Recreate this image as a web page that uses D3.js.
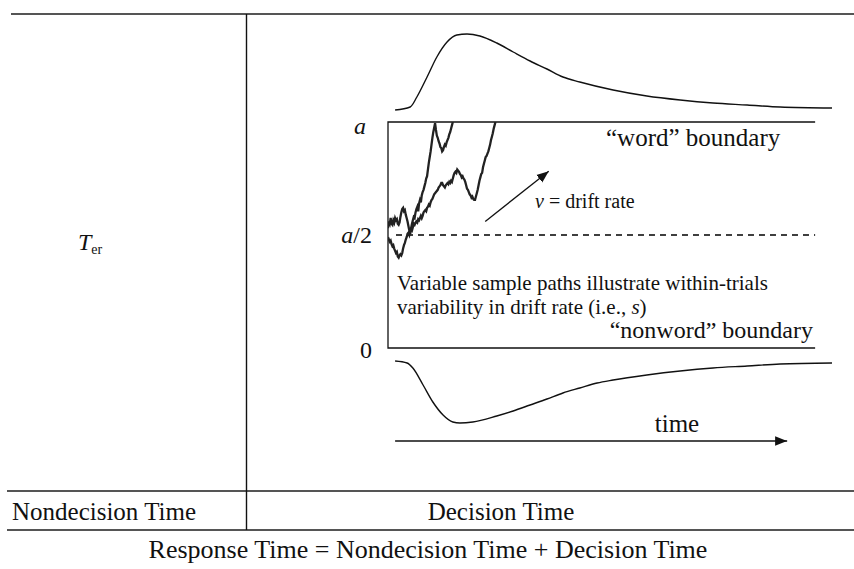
<!DOCTYPE html>
<html><head><meta charset="utf-8">
<script src="https://cdn.jsdelivr.net/npm/d3@7"></script>
<style>html,body{margin:0;padding:0;background:#fff;} svg{display:block;} text{font-family:"Liberation Serif","Times New Roman",serif;fill:#111;}</style>
</head><body>
<svg id="c" width="854" height="569"></svg>
<script>
// ---- data ----
const boundaryLabels = ["a", "a/2", "0"];
const boundaryValues = [1, 0.5, 0];
// "word" (upper) RT density: time, density
const upperTime = [16, 50, 65, 88, 110, 133, 155, 178, 207, 245, 282, 320, 358, 394, 432, 507, 583, 658, 732, 809, 883, 1000];
const upperDensity = [0, 3, 13, 33, 53, 68, 75, 76, 74, 67, 58, 49, 41, 33, 28, 20, 14, 10, 7, 5, 3, 2];
// "nonword" (lower) RT density
const lowerTime = [16, 43, 56, 79, 101, 124, 146, 162, 191, 245, 282, 320, 358, 394, 432, 471, 507, 583, 658, 732, 809, 883, 1000];
const lowerDensity = [0, 2, 7, 24, 41, 54, 61, 62, 61, 55, 50, 44, 38, 32, 27, 22, 19, 14, 10, 7, 5, 3, 2];
// sample paths: [time, evidence (0..a)]
const path1 = [[0,0.53],[2,0.56],[4,0.55],[6,0.575],[8,0.55],[10,0.545],[12,0.565],[14,0.555],[16,0.575],[18,0.565],[20,0.57],[22,0.55],[24,0.545],[26,0.555],[28,0.58],[30,0.6],[32,0.615],[34,0.62],[36,0.605],[38,0.61],[40,0.59],[42,0.575],[44,0.56],[46,0.54],[48,0.52],[50,0.505],[52,0.53],[54,0.55],[56,0.565],[58,0.58],[60,0.575],[62,0.6],[64,0.615],[66,0.625],[68,0.605],[70,0.64],[72,0.655],[74,0.645],[76,0.675],[78,0.69],[80,0.7],[82,0.715],[84,0.73],[86,0.75],[88,0.76],[90,0.79],[92,0.82],[94,0.845],[96,0.87],[98,0.9],[100,0.93],[102,0.955],[104,0.975],[106,0.995],[108,0.965],[110,0.94],[112,0.93],[114,0.915],[116,0.905],[118,0.89],[120,0.885],[122,0.87],[124,0.875],[126,0.89],[128,0.9],[130,0.895],[132,0.91],[134,0.92],[136,0.93],[138,0.945],[140,0.955],[142,0.97],[144,0.985],[146,1.0]];
const path2 = [[0,0.49],[2,0.48],[4,0.47],[6,0.475],[8,0.46],[10,0.45],[12,0.455],[14,0.44],[16,0.43],[18,0.42],[20,0.425],[22,0.405],[24,0.4],[26,0.41],[28,0.415],[30,0.41],[32,0.42],[34,0.44],[36,0.455],[38,0.465],[40,0.48],[42,0.49],[44,0.505],[46,0.51],[48,0.5],[50,0.515],[52,0.525],[54,0.52],[56,0.535],[58,0.55],[60,0.545],[62,0.555],[64,0.56],[66,0.555],[68,0.57],[70,0.565],[72,0.575],[74,0.585],[76,0.575],[78,0.585],[80,0.6],[82,0.605],[84,0.61],[86,0.605],[88,0.62],[90,0.625],[92,0.635],[94,0.63],[96,0.645],[98,0.655],[100,0.66],[102,0.67],[104,0.68],[106,0.685],[108,0.69],[110,0.695],[112,0.7],[114,0.71],[116,0.715],[118,0.72],[120,0.73],[122,0.73],[124,0.72],[126,0.715],[128,0.71],[130,0.72],[132,0.725],[134,0.73],[136,0.725],[138,0.735],[140,0.73],[142,0.74],[144,0.735],[146,0.75],[148,0.765],[150,0.775],[152,0.78],[154,0.775],[156,0.79],[158,0.785],[160,0.78],[162,0.77],[164,0.765],[166,0.755],[168,0.76],[170,0.75],[172,0.745],[174,0.735],[176,0.72],[178,0.705],[180,0.7],[182,0.69],[184,0.68],[186,0.675],[188,0.665],[190,0.67],[192,0.66],[194,0.655],[196,0.655],[198,0.67],[200,0.685],[202,0.7],[204,0.72],[206,0.74],[208,0.755],[210,0.77],[212,0.775],[214,0.8],[216,0.815],[218,0.83],[220,0.845],[222,0.85],[224,0.86],[226,0.87],[228,0.885],[230,0.9],[232,0.92],[234,0.935],[236,0.95],[238,0.97],[240,0.985],[242,1.0]];
const boxEnd = 962;        // time where boundaries end
const arrowStart = 16, arrowEnd = 899;

// ---- scales ----
const svg = d3.select("#c");
const x = d3.scaleLinear().domain([0, 1000]).range([388, 832]);
const y = d3.scaleLinear().domain([0, 1]).range([348, 122]);
const yUp = d3.scaleLinear().domain([0, 76]).range([110, 34]);
const yDn = d3.scaleLinear().domain([0, 62]).range([361, 423]);

// ---- table frame ----
const gray = "#555";
svg.append("line").attr("x1", 11).attr("x2", 854).attr("y1", 14).attr("y2", 14).attr("stroke", gray).attr("stroke-width", 2);
svg.append("line").attr("x1", 7).attr("x2", 854).attr("y1", 491).attr("y2", 491).attr("stroke", gray).attr("stroke-width", 2);
svg.append("line").attr("x1", 7).attr("x2", 854).attr("y1", 530).attr("y2", 530).attr("stroke", gray).attr("stroke-width", 2);
svg.append("line").attr("x1", 246.5).attr("x2", 246.5).attr("y1", 14).attr("y2", 530).attr("stroke", "#111").attr("stroke-width", 1.4);

// ---- defs ----
const defs = svg.append("defs");
defs.append("marker").attr("id", "ah").attr("viewBox", "0 0 10 10").attr("refX", 10).attr("refY", 5)
  .attr("markerWidth", 12).attr("markerHeight", 12).attr("markerUnits", "userSpaceOnUse").attr("orient", "auto")
  .append("path").attr("d", "M0,1 L10,5 L0,9 Z").attr("fill", "#111");
defs.append("clipPath").attr("id", "box").append("rect")
  .attr("x", x(0)).attr("y", y(1)).attr("width", x(boxEnd) - x(0)).attr("height", y(0) - y(1));

// ---- boundaries ----
svg.append("path").attr("fill", "none").attr("stroke", "#111").attr("stroke-width", 1.3)
  .attr("d", d3.line()([[x(boxEnd), y(1)], [x(0), y(1)], [x(0), y(0)], [x(boxEnd), y(0)]]));
svg.append("line").attr("x1", x(18)).attr("x2", x(boxEnd)).attr("y1", y(0.5)).attr("y2", y(0.5))
  .attr("stroke", "#000").attr("stroke-width", 1.3).attr("stroke-dasharray", "6,5");

// ---- densities ----
const dens = (ys) => d3.line().x(d => x(d[0])).y(d => ys(d[1])).curve(d3.curveMonotoneX);
svg.append("path").attr("fill", "none").attr("stroke", "#111").attr("stroke-width", 1.4)
  .attr("d", dens(yUp)(upperTime.map((t, i) => [t, upperDensity[i]])));
svg.append("path").attr("fill", "none").attr("stroke", "#111").attr("stroke-width", 1.4)
  .attr("d", dens(yDn)(lowerTime.map((t, i) => [t, lowerDensity[i]])));

// ---- sample paths ----
const pl = d3.line().x(d => x(d[0])).y(d => y(d[1]));
[path1, path2].forEach(p => {
  svg.append("path").attr("clip-path", "url(#box)").attr("fill", "none")
    .attr("stroke", "#222").attr("stroke-width", 2.3).attr("stroke-linejoin", "miter")
    .attr("d", pl(p));
});

// ---- drift arrow ----
svg.append("line").attr("x1", x(219)).attr("y1", y(0.56)).attr("x2", x(362)).attr("y2", y(0.782))
  .attr("stroke", "#111").attr("stroke-width", 1.3).attr("marker-end", "url(#ah)");

// ---- time arrow ----
svg.append("line").attr("x1", x(arrowStart)).attr("x2", x(arrowEnd)).attr("y1", 441).attr("y2", 441)
  .attr("stroke", "#111").attr("stroke-width", 1.4).attr("marker-end", "url(#ah)");

// ---- texts ----
const T = (tx, ty, s, size, anchor) => svg.append("text").attr("x", tx).attr("y", ty)
  .attr("font-size", size).attr("text-anchor", anchor || "start").text(s);

// boundary labels
boundaryLabels.forEach((lab, i) => {
  const t = svg.append("text").attr("x", 372).attr("y", y(boundaryValues[i]) + 8)
    .attr("font-size", 24).attr("text-anchor", "end");
  if (lab === "0") { t.attr("y", y(0) + 10).text(lab); }
  else if (lab === "a/2") { t.append("tspan").attr("font-style", "italic").text("a"); t.append("tspan").text("/2"); }
  else { t.attr("x", 366).attr("y", y(1) + 12).attr("font-style", "italic").text(lab); }
});

T(606, 146, "\u201Cword\u201D boundary", 25);
const dr = svg.append("text").attr("x", 535).attr("y", 208).attr("font-size", 20);
dr.append("tspan").attr("font-style", "italic").text("\u03BD");
dr.append("tspan").text(" = drift rate");

T(397, 290, "Variable sample paths illustrate within-trials", 21);
const l2 = svg.append("text").attr("x", 397).attr("y", 314).attr("font-size", 21);
l2.append("tspan").text("variability in drift rate (i.e., ");
l2.append("tspan").attr("font-style", "italic").text("s");
l2.append("tspan").text(")");
T(813, 338, "\u201Cnonword\u201D boundary", 24, "end");

T(677, 432, "time", 25, "middle");

const ter = svg.append("text").attr("x", 78).attr("y", 250).attr("font-size", 24);
ter.append("tspan").attr("font-style", "italic").text("T");
ter.append("tspan").attr("font-size", 14).attr("dy", 4).text("er");

T(12, 520, "Nondecision Time", 25);
T(501, 520, "Decision Time", 25, "middle");
T(428, 558, "Response Time = Nondecision Time + Decision Time", 26, "middle");
</script>
</body></html>
